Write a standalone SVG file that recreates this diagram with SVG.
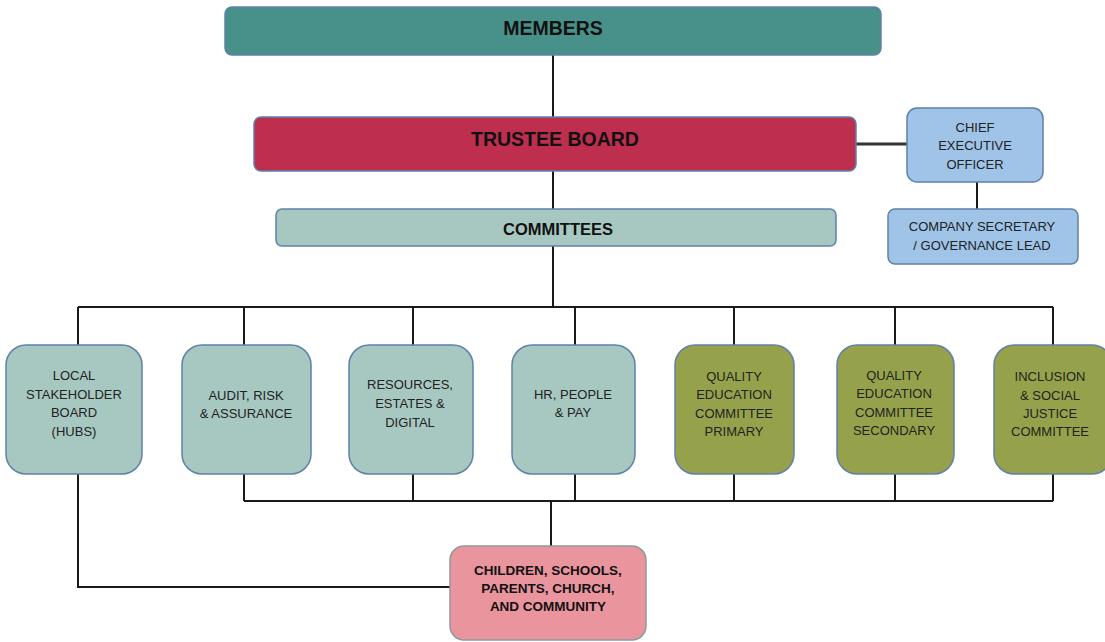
<svg xmlns="http://www.w3.org/2000/svg" width="1105" height="642" viewBox="0 0 1105 642">
<style>
.ln{stroke:#1a1a1a;stroke-width:2;fill:none}
.bx{stroke:#5f80aa;stroke-width:1.5}
.t{font-family:"Liberation Sans",Arial,sans-serif;font-size:13px;fill:#222;text-anchor:middle;dominant-baseline:central}
.tb{font-family:"Liberation Sans",Arial,sans-serif;font-weight:bold;fill:#111;text-anchor:middle;dominant-baseline:central}
.teal{fill:#a7c8c0}
.olive{fill:#96a24b}
.blue{fill:#9fc4e8}
</style>
<rect width="1105" height="642" fill="#fff"/>
<g id="connectors">
<path class="ln" d="M553 55V117M553 171V209M553 246V307M78 307H1053M78 307V345M244 307V345M413 307V345M575 307V345M734 307V345M895 307V345M1053 307V345"/>
<path class="ln" d="M244 474V501M413 474V501M575 474V501M734 474V501M895 474V501M1053 474V501M244 501H1053M551 501V546"/>
<path class="ln" d="M78 474V587H450"/>
<path d="M856 144H907" stroke="#333" stroke-width="3"/>
<path class="ln" d="M977 182V209"/>
</g>
<g id="members">
<rect class="bx" x="225" y="7" width="656" height="48" rx="7" fill="#48918a"/>
<text class="tb" x="553" y="28" font-size="19.5">MEMBERS</text>
</g>
<g id="trustee-board">
<rect class="bx" x="254" y="117" width="602" height="54" rx="7" fill="#bd2e4f"/>
<text class="tb" x="555" y="139" font-size="19.5">TRUSTEE BOARD</text>
</g>
<g id="ceo">
<rect class="bx blue" x="907" y="108" width="136" height="74" rx="10"/>
<text class="t" x="975" y="127">CHIEF</text>
<text class="t" x="975" y="145">EXECUTIVE</text>
<text class="t" x="975" y="164">OFFICER</text>
</g>
<g id="company-secretary">
<rect class="bx blue" x="888" y="209" width="190" height="55" rx="7"/>
<text class="t" x="982" y="226">COMPANY SECRETARY</text>
<text class="t" x="982" y="245">/ GOVERNANCE LEAD</text>
</g>
<g id="committees">
<rect class="bx teal" x="276" y="209" width="560" height="37" rx="6"/>
<text class="tb" x="558" y="229" font-size="16.5">COMMITTEES</text>
</g>
<g id="local-stakeholder-board">
<rect class="bx teal" x="6" y="345" width="136" height="129" rx="20"/>
<text class="t" x="74" y="375">LOCAL</text>
<text class="t" x="74" y="394">STAKEHOLDER</text>
<text class="t" x="74" y="412">BOARD</text>
<text class="t" x="74" y="431">(HUBS)</text>
</g>
<g id="audit">
<rect class="bx teal" x="182" y="345" width="129" height="129" rx="20"/>
<text class="t" x="246" y="395">AUDIT, RISK</text>
<text class="t" x="246" y="413">&amp; ASSURANCE</text>
</g>
<g id="resources">
<rect class="bx teal" x="349" y="345" width="124" height="129" rx="20"/>
<text class="t" x="410" y="384">RESOURCES,</text>
<text class="t" x="410" y="403">ESTATES &amp;</text>
<text class="t" x="410" y="422">DIGITAL</text>
</g>
<g id="hr">
<rect class="bx teal" x="512" y="345" width="123" height="129" rx="20"/>
<text class="t" x="573" y="394">HR, PEOPLE</text>
<text class="t" x="573" y="412">&amp; PAY</text>
</g>
<g id="qec-primary">
<rect class="bx olive" x="675" y="345" width="119" height="129" rx="20"/>
<text class="t" x="734" y="376">QUALITY</text>
<text class="t" x="734" y="394">EDUCATION</text>
<text class="t" x="734" y="413">COMMITTEE</text>
<text class="t" x="734" y="431">PRIMARY</text>
</g>
<g id="qec-secondary">
<rect class="bx olive" x="837" y="345" width="117" height="129" rx="20"/>
<text class="t" x="894" y="375">QUALITY</text>
<text class="t" x="894" y="393">EDUCATION</text>
<text class="t" x="894" y="412">COMMITTEE</text>
<text class="t" x="894" y="430">SECONDARY</text>
</g>
<g id="inclusion">
<rect class="bx olive" x="994" y="345" width="118" height="129" rx="20"/>
<text class="t" x="1050" y="376">INCLUSION</text>
<text class="t" x="1050" y="395">&amp; SOCIAL</text>
<text class="t" x="1050" y="413">JUSTICE</text>
<text class="t" x="1050" y="431">COMMITTEE</text>
</g>
<g id="children">
<rect x="450" y="546" width="196" height="94" rx="14" fill="#ea959e" stroke="#8c9c9a" stroke-width="1.5"/>
<text class="tb" x="548" y="570" font-size="13.5">CHILDREN, SCHOOLS,</text>
<text class="tb" x="548" y="588" font-size="13.5">PARENTS, CHURCH,</text>
<text class="tb" x="548" y="606" font-size="13.5">AND COMMUNITY</text>
</g>
</svg>
